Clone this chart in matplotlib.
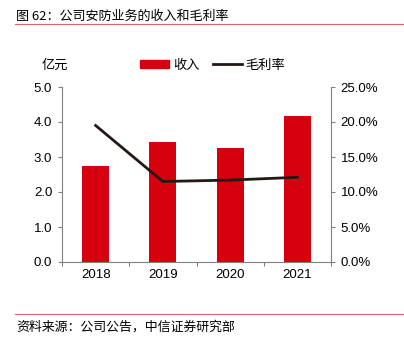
import matplotlib.pyplot as plt
from matplotlib.lines import Line2D
from matplotlib.patches import Patch

plt.rcParams['font.family'] = ['Liberation Sans', 'Noto Sans CJK SC', 'DejaVu Sans']

# Data
years = ["2018", "2019", "2020", "2021"]
revenue = [2.75, 3.44, 3.27, 4.16]          # 亿元
gross_margin = [19.5, 11.5, 11.7, 12.1]     # %

BAR_RED = "#D7000F"
LINE_DARK = "#231815"
AXIS_GRAY = "#808080"
RULE_RED = "#E06666"
CJK = ['Noto Sans CJK SC', 'DejaVu Sans']


def main():
    fig = plt.figure(figsize=(4.04, 3.45), dpi=100)
    ax = fig.add_axes([62 / 404, 1 - 262 / 345, 269 / 404, 175 / 345])
    ax2 = ax.twinx()

    x = range(len(years))
    ax.bar(x, revenue, width=0.4, color=BAR_RED, zorder=2)
    ax2.plot(x, gross_margin, color=LINE_DARK, linewidth=2, zorder=3)

    ax.set_xlim(-0.5, len(years) - 0.5)
    ax.set_ylim(0, 5)
    ax.set_yticks([0, 1, 2, 3, 4, 5])
    ax.set_yticklabels([f"{v:.1f}" for v in range(6)])
    ax2.set_ylim(0, 25)
    ax2.set_yticks([0, 5, 10, 15, 20, 25])
    ax2.set_yticklabels([f"{v:.1f}%" for v in [0, 5, 10, 15, 20, 25]])

    # category ticks at boundaries, labels centered
    ax.set_xticks([i - 0.5 for i in range(len(years) + 1)])
    ax.set_xticklabels([])
    ax.set_xticks(list(x), minor=True)
    ax.set_xticklabels(years, minor=True)
    ax.tick_params(axis="x", which="minor", length=0, pad=5)

    for a in (ax, ax2):
        a.spines["top"].set_visible(False)
        for s in ("left", "right", "bottom"):
            a.spines[s].set_color(AXIS_GRAY)
            a.spines[s].set_linewidth(0.8)
        a.tick_params(axis="both", which="major", colors=AXIS_GRAY, length=3,
                      width=0.8, labelsize=9.5, labelcolor="black")
        a.tick_params(axis="x", which="minor", labelsize=9.5, labelcolor="black")
    ax.spines["right"].set_visible(False)
    ax2.spines["left"].set_visible(False)
    ax2.spines["bottom"].set_visible(False)
    ax.tick_params(axis="y", pad=4)
    ax2.tick_params(axis="y", pad=4)

    # title and rules
    fig.text(16 / 404, 1 - 16 / 345, "图 62：公司安防业务的收入和毛利率", fontsize=9.4,
             va="center", ha="left", family=CJK)
    fig.add_artist(Line2D([15 / 404, 1], [1 - 24 / 345] * 2, color=RULE_RED, lw=0.8))
    fig.add_artist(Line2D([15 / 404, 1], [1 - 314 / 345] * 2, color=RULE_RED, lw=0.8))
    fig.text(16 / 404, 1 - 327 / 345, "资料来源：公司公告，中信证券研究部", fontsize=9.3,
             va="center", ha="left", family=CJK)

    # unit label
    fig.text(42 / 404, 1 - 65 / 345, "亿元", fontsize=9.5, va="center", ha="left",
             family=CJK)

    handles = [Patch(color=BAR_RED), Line2D([], [], color=LINE_DARK, lw=2)]
    fig.legend(handles, ["收入", "毛利率"], loc="center left",
               bbox_to_anchor=(128 / 404, 1 - 65 / 345), ncol=2, frameon=False,
               handlelength=2.2, handleheight=0.6, handletextpad=0.3, columnspacing=1.0,
               prop={"family": CJK, "size": 9.5})

    fig.savefig("out.png", dpi=100)


if __name__ == "__main__":
    main()
